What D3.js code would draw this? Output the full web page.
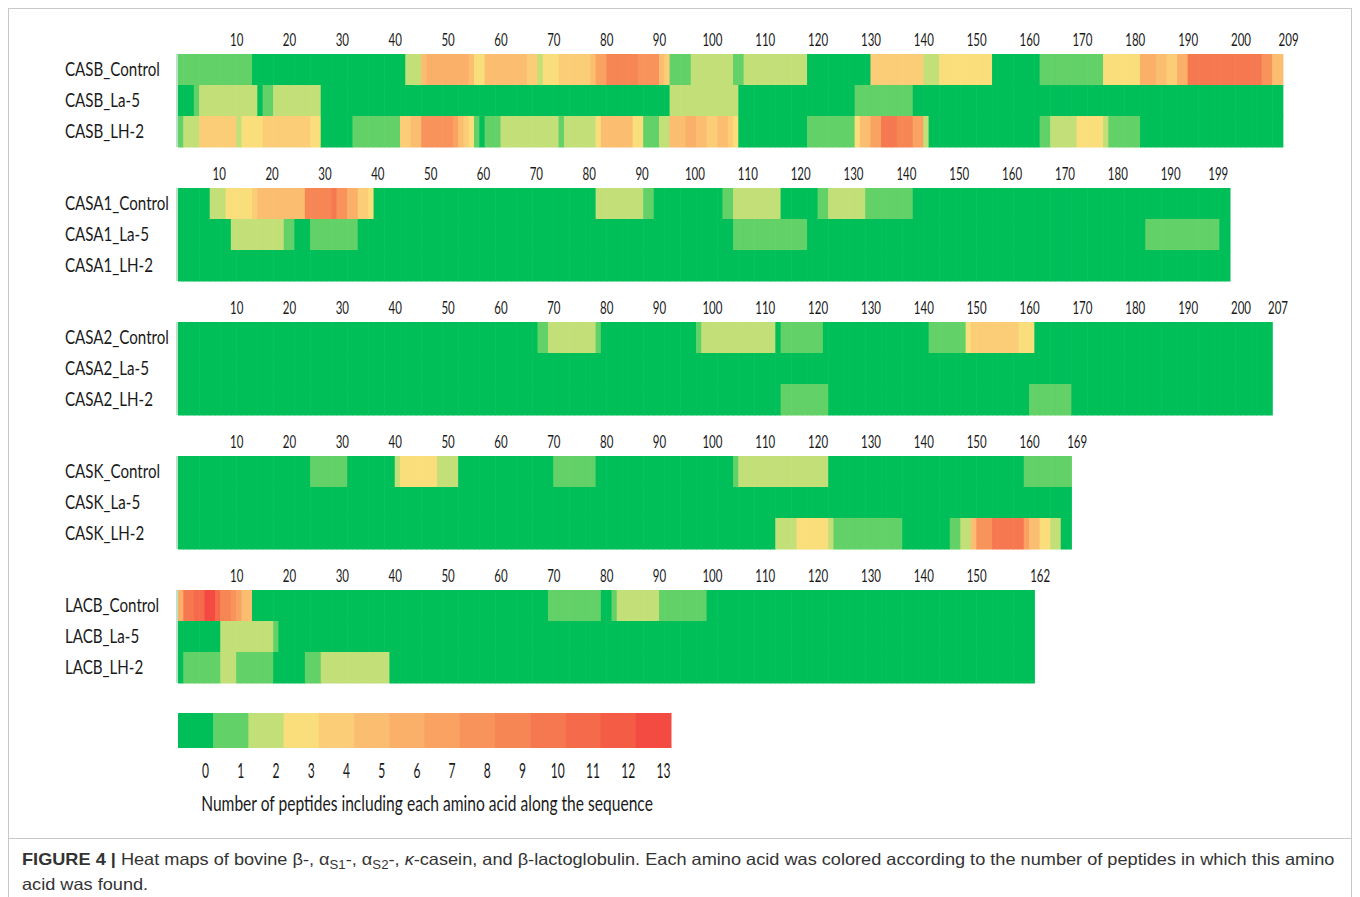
<!DOCTYPE html>
<html><head><meta charset="utf-8">
<script src="https://cdn.jsdelivr.net/npm/d3@7"></script>
<style>body{margin:0;background:#fff}</style>
</head><body><svg id="c" width="1360" height="897"></svg>
<script>
// ---------------- DATA ----------------
const proteins = ["CASB", "CASA1", "CASA2", "CASK", "LACB"];
const seqLengths = [209, 199, 207, 169, 162];
const conditions = ["Control", "La-5", "LH-2"];

const CASB_ticks  = [10,20,30,40,50,60,70,80,90,100,110,120,130,140,150,160,170,180,190,200,209];
const CASA1_ticks = [10,20,30,40,50,60,70,80,90,100,110,120,130,140,150,160,170,180,190,199];
const CASA2_ticks = [10,20,30,40,50,60,70,80,90,100,110,120,130,140,150,160,170,180,190,200,207];
const CASK_ticks  = [10,20,30,40,50,60,70,80,90,100,110,120,130,140,150,160,169];
const LACB_ticks  = [10,20,30,40,50,60,70,80,90,100,110,120,130,140,150,162];

// peptide counts per residue, as runs [fromResidue, toResidue, count]; residues not listed = 0
const CASB_Control = [[1,14,1],[44,46,2],[47,47,5],[48,55,6],[56,56,5],[57,58,3],[59,66,5],[67,68,4],[69,69,2],[70,72,3],[73,78,4],[79,79,5],[80,81,7],[82,87,9],[88,91,8],[92,92,5],[93,93,4],[94,97,1],[98,105,2],[106,107,1],[108,119,2],[132,141,4],[142,144,2],[145,154,3],[164,175,1],[176,182,3],[183,185,6],[186,187,5],[188,189,4],[190,191,6],[192,205,10],[206,207,8],[208,209,5]];
const CASB_La5 = [[4,4,1],[5,15,2],[17,18,1],[19,27,2],[94,106,2],[129,139,1]];
const CASB_LH2 = [[1,1,1],[2,4,2],[5,11,4],[12,12,2],[13,16,3],[17,25,4],[26,27,3],[34,42,1],[43,44,4],[45,46,5],[47,52,8],[53,53,7],[54,54,5],[55,55,4],[56,56,3],[57,57,1],[59,61,1],[62,72,2],[73,73,1],[74,79,2],[80,80,3],[81,86,5],[87,88,3],[89,91,1],[92,93,2],[94,96,5],[97,98,6],[99,100,5],[101,102,4],[103,104,5],[105,105,4],[106,106,3],[120,128,1],[129,129,3],[130,131,5],[132,133,7],[134,136,10],[137,139,9],[140,141,7],[142,142,2],[164,165,1],[166,170,2],[171,175,3],[176,176,2],[177,182,1]];

const CASA1_Control = [[7,9,2],[10,14,3],[15,15,4],[16,24,5],[25,29,9],[30,30,10],[31,32,8],[33,34,6],[35,36,4],[37,37,3],[80,88,2],[89,90,1],[104,105,1],[106,114,2],[122,123,1],[124,130,2],[131,139,1]];
const CASA1_La5 = [[11,20,2],[21,22,1],[26,34,1],[106,119,1],[184,197,1]];
const CASA1_LH2 = [];

const CASA2_Control = [[69,70,1],[71,79,2],[80,80,1],[99,99,1],[100,113,2],[115,122,1],[143,149,1],[150,150,3],[151,159,4],[160,162,3]];
const CASA2_La5 = [];
const CASA2_LH2 = [[115,123,1],[162,169,1]];

const CASK_Control = [[26,32,1],[42,42,2],[43,49,3],[50,53,2],[72,79,1],[106,106,1],[107,123,2],[161,169,1]];
const CASK_La5 = [];
const CASK_LH2 = [[114,117,2],[118,123,3],[124,124,2],[125,137,1],[147,148,1],[149,150,2],[151,151,5],[152,154,8],[155,160,10],[161,161,7],[162,163,5],[164,165,3],[166,167,2]];

const LACB_Control = [[1,1,6],[2,3,10],[4,5,11],[6,7,13],[8,8,11],[9,10,9],[11,11,8],[12,12,7],[13,14,5],[71,80,1],[83,83,1],[84,91,2],[92,100,1]];
const LACB_La5 = [[9,18,2],[19,19,1]];
const LACB_LH2 = [[2,8,1],[9,11,2],[12,18,1],[25,27,1],[28,40,2]];

const legendCounts = [0,1,2,3,4,5,6,7,8,9,10,11,12,13];
const legendColors = ["#00bf59","#62d167","#c3df78","#f9de7b","#fccd77","#fbbd6f","#fab068","#f9a262","#f8945b","#f78655","#f67850","#f56a4b","#f45c46","#f34a41"];
const legendTitle = "Number of peptides including each amino acid along the sequence";

// ---------------- BUILD ----------------
const rowRuns = {
  CASB: [CASB_Control, CASB_La5, CASB_LH2],
  CASA1: [CASA1_Control, CASA1_La5, CASA1_LH2],
  CASA2: [CASA2_Control, CASA2_La5, CASA2_LH2],
  CASK: [CASK_Control, CASK_La5, CASK_LH2],
  LACB: [LACB_Control, LACB_La5, LACB_LH2]
};
const tickSets = {CASB: CASB_ticks, CASA1: CASA1_ticks, CASA2: CASA2_ticks, CASK: CASK_ticks, LACB: LACB_ticks};
const tickShift = {CASB: 1, CASA1: -2.3, CASA2: 1, CASK: 1, LACB: 1};

const svg = d3.select("#c");

const x = d3.scaleLinear().domain([0, 209]).range([178, 178 + 209 * 5.286]);
const color = d3.scaleOrdinal().domain(legendCounts).range(legendColors);
const yBlock = d3.scalePoint().domain(proteins).range([54, 54 + 4 * 134]);
const yRow = d3.scaleBand().domain(conditions).range([0, 93]);

// frame
svg.append("rect").attr("x", 8.5).attr("y", 8.5).attr("width", 1343).attr("height", 830)
  .attr("fill", "none").attr("stroke", "#c8c8c8").attr("stroke-width", 1);
svg.append("rect").attr("x", 8.5).attr("y", 838.5).attr("width", 1343).attr("height", 70)
  .attr("fill", "none").attr("stroke", "#c8c8c8").attr("stroke-width", 1);

function widthOf(str, font) {
  const t = svg.append("text").attr("style", font).text(str);
  const w = t.node().getComputedTextLength();
  t.remove();
  return w;
}
const labFont = "font-family:Lato,'Open Sans',sans-serif;font-size:18.5px;fill:#1a1a1a";
const tickFont = "font-family:Lato,'Open Sans',sans-serif;font-size:17px;fill:#1a1a1a";
const legFont = "font-family:Lato,'Open Sans',sans-serif;font-size:21px;fill:#1a1a1a";
const titleFont = "font-family:Lato,'Open Sans',sans-serif;font-size:21px;fill:#1a1a1a";
const sxLab = 104 / widthOf("CASA1_Control", labFont);
const sxTick = 20 / widthOf("200", tickFont);
const sxLeg = 14 / widthOf("10", legFont);
const sxTitle = 452 / widthOf(legendTitle, titleFont);

proteins.forEach((p, pi) => {
  const top = yBlock(p);
  const len = seqLengths[pi];
  const g = svg.append("g");
  rowRuns[p].forEach((runs, ri) => {
    const vals = new Array(len).fill(0);
    runs.forEach(([a, b, v]) => { for (let i = a; i <= b; i++) vals[i - 1] = v; });
    const cells = vals.map((v, i) => ({res: i + 1, v}));
    const y0 = top + yRow(conditions[ri]);
    g.append("g").selectAll("rect").data(cells).join("rect")
      .attr("x", d => x(d.res - 1))
      .attr("width", d => x(d.res) - x(d.res - 1) + 0.6)
      .attr("y", y0).attr("height", yRow.bandwidth() + 0.5)
      .attr("fill", d => color(d.v));
    svg.append("text").attr("style", labFont)
      .attr("transform", `translate(65,${y0 + yRow.bandwidth() / 2 + 6.5}) scale(${sxLab},1)`)
      .text(`${p}_${conditions[ri]}`);
  });
  g.append("rect").attr("x", x(0) - 2).attr("y", top).attr("width", 2).attr("height", 93).attr("fill", "#b9e2c6");
  const sh = tickShift[p];
  const ax = d3.scaleLinear().domain([0 - sh, 209 - sh]).range(x.range());
  const axG = svg.append("g").attr("transform", `translate(0,${top})`)
    .call(d3.axisTop(ax).tickValues(tickSets[p]).tickSize(0).tickPadding(8).tickFormat(d3.format("d")));
  axG.select(".domain").remove();
  axG.selectAll("text").attr("style", tickFont).attr("font-family", null).attr("font-size", null)
    .attr("transform", `scale(${sxTick},1)`);
});

// legend
const lx = d3.scaleBand().domain(legendCounts).range([178, 671]);
svg.append("g").selectAll("rect").data(legendCounts).join("rect")
  .attr("x", d => lx(d)).attr("y", 713).attr("width", lx.bandwidth() + 0.5).attr("height", 35)
  .attr("fill", d => color(d));
svg.append("g").selectAll("text").data(legendCounts).join("text")
  .attr("style", legFont).attr("text-anchor", "middle")
  .attr("transform", d => `translate(${lx(d) + lx.bandwidth() / 2 + 10},778) scale(${sxLeg},1)`)
  .text(d => d);
svg.append("text").attr("style", titleFont).attr("text-anchor", "middle")
  .attr("transform", `translate(427,811) scale(${sxTitle},1)`).text(legendTitle);

// caption
const capFont = "font-family:'Liberation Sans',Arial,sans-serif;font-size:16.5px;fill:#333";
const cap = svg.append("text").attr("style", capFont).attr("transform", "translate(22,865)");
cap.append("tspan").attr("font-weight", "bold").text("FIGURE 4 | ");
cap.append("tspan").text("Heat maps of bovine β-, α");
cap.append("tspan").attr("font-size", "12px").attr("baseline-shift", "-4").text("S1");
cap.append("tspan").text("-, α");
cap.append("tspan").attr("font-size", "12px").attr("baseline-shift", "-4").text("S2");
cap.append("tspan").text("-, ");
cap.append("tspan").attr("font-style", "italic").text("κ");
cap.append("tspan").text("-casein, and β-lactoglobulin. Each amino acid was colored according to the number of peptides in which this amino");
const sxCap = 1313 / cap.node().getComputedTextLength();
cap.attr("transform", `translate(22,865) scale(${sxCap},1)`);
svg.append("text").attr("style", capFont).attr("transform", `translate(22,890) scale(${sxCap},1)`).text("acid was found.");
</script>
</body></html>
